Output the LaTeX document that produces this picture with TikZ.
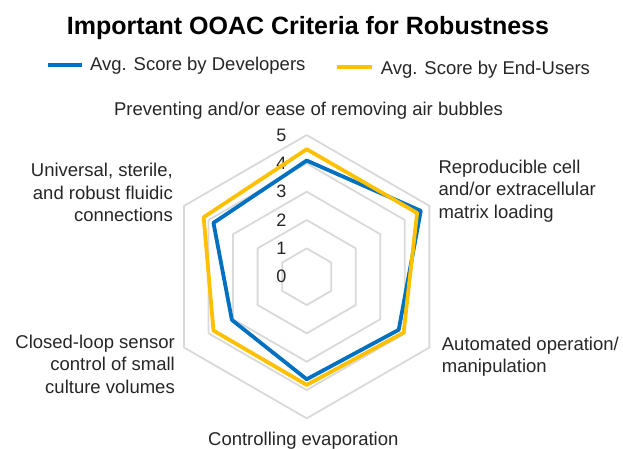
\documentclass[tikz,border=0pt]{standalone}
\usepackage{fontspec}
\setmainfont{Liberation Sans}
\definecolor{devblue}{HTML}{0070C0}
\definecolor{useryellow}{HTML}{FFC000}
\definecolor{gridgray}{HTML}{D9D9D9}
\definecolor{labelgray}{HTML}{262626}
\tikzset{
  ringline/.style={gridgray, line width=1.8pt, line join=round},
  devline/.style={devblue, line width=3.8pt, line join=round},
  userline/.style={useryellow, line width=3.8pt, line join=round},
  axislabel/.style={labelgray, inner sep=0pt, font=\fontsize{18.5}{22.5}\selectfont},
  ticklabel/.style={labelgray, inner sep=0pt, font=\fontsize{18}{20}\selectfont}
}
\begin{document}
\begin{tikzpicture}[x=1pt,y=1pt]
  \useasboundingbox (-306.7,-171.3) rectangle (316.3,276.7);
  % rings 1..5
  \foreach \r in {1,...,5}
    \draw [ringline] (90:28.33*\r)--(30:28.33*\r)--(-30:28.33*\r)--(-90:28.33*\r)--(-150:28.33*\r)--(150:28.33*\r)--cycle;
  % scale values
  \foreach \v in {0,...,5}
    \node [ticklabel, anchor=east] (tick\v) at (-20,28.33*\v) {\v};
  % series
  \draw [devline] (90:28.33*4.1)--(30:28.33*4.65)--(-30:28.33*3.75)--(-90:28.33*3.62)--(-150:28.33*3.05)--(150:28.33*3.8)--cycle;
  \draw [userline] (90:28.33*4.5)--(30:28.33*4.5)--(-30:28.33*3.95)--(-90:28.33*3.82)--(-150:28.33*3.8)--(150:28.33*4.2)--cycle;
  % title and legend
  \node [anchor=base, inner sep=0pt, font=\bfseries\fontsize{25}{30}\selectfont] (title) at (1.3,242.4) {Important OOAC Criteria for Robustness};
  \draw [devline, line cap=butt] (-259,211.7)--(-225,211.7);
  \node [axislabel, anchor=base west] (legdev) at (-216.7,206.7) {Avg. Score by Developers};
  \draw [userline, line cap=butt] (30.3,209.4)--(65,209.4);
  \node [axislabel, anchor=base west] (leguser) at (74,202.4) {Avg. Score by End-Users};
  % axis names (base = last line)
  \node [axislabel, anchor=base] (bubbles) at (1.8,161.7) {Preventing and/or ease of removing air bubbles};
  \node [axislabel, anchor=base west, align=left] (loading) at (131.6,58.4) {Reproducible cell\\and/or extracellular\\matrix loading};
  \node [axislabel, anchor=base west, align=left] (automated) at (135,-95.8) {Automated operation/\\manipulation};
  \node [axislabel, anchor=base] (evaporation) at (-3.4,-168.3) {Controlling evaporation};
  \node [axislabel, anchor=base east, align=right] (sensor) at (-131.7,-116.3) {Closed-loop sensor\\control of small\\culture volumes};
  \node [axislabel, anchor=base east, align=right] (fluidic) at (-133.7,55) {Universal, sterile,\\and robust fluidic\\connections};
\end{tikzpicture}
\end{document}
